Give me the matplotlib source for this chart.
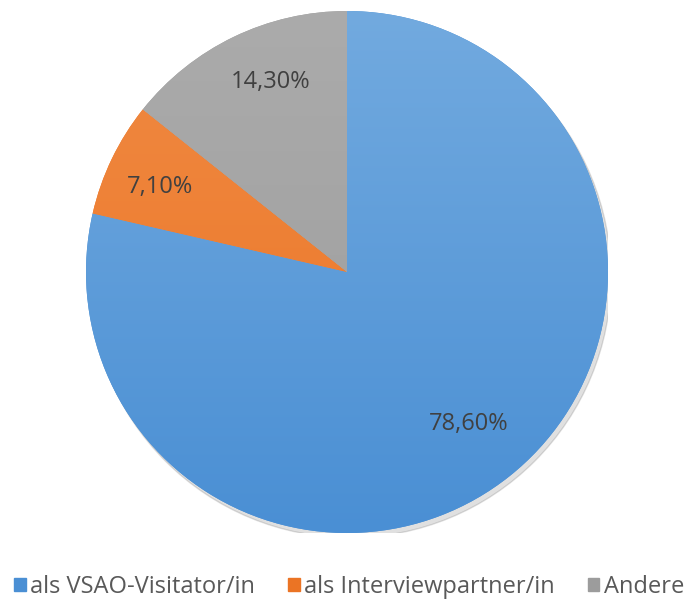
import matplotlib.pyplot as plt
import matplotlib.colors as mcolors
import numpy as np

# ── Data ──────────────────────────────────────────────────────────────────────
labels = ['als VSAO-Visitator/in', 'als Interviewpartner/in', 'Andere']
values = [78.6, 7.1, 14.3]
value_labels = ['78,60%', '7,10%', '14,30%']

colors_top = ['#72aadf', '#f08a43', '#ababab']
colors_bot = ['#4a8fd4', '#eb7424', '#9c9c9c']
label_dist = [0.747, 0.787, 0.784]
label_shift = [0.2, 1.3, -3.9]   # degrees

# ── Plot ──────────────────────────────────────────────────────────────────────
fig = plt.figure(figsize=(6.91, 6.01), dpi=100)
R = 261
cx, cy = 347, 601 - 272
ax = fig.add_axes([(cx - R) / 691, (cy - R) / 601, 2 * R / 691, 2 * R / 601])
ax.set_aspect('equal')
ax.axis('off')

# soft shadow
shadow = plt.Circle((0.012, -0.018), 1.0, color='#000000', alpha=0.12, zorder=0)
ax.add_patch(shadow)

wedges, _ = ax.pie(values, startangle=90, counterclock=False, radius=1.0,
                   colors=colors_bot, wedgeprops=dict(linewidth=0))

# vertical gradient inside each wedge
grad = np.linspace(1, 0, 256).reshape(-1, 1)
for w, ct, cb in zip(wedges, colors_top, colors_bot):
    cmap = mcolors.LinearSegmentedColormap.from_list('g', [cb, ct])
    im = ax.imshow(grad, extent=(-1, 1, -1, 1), cmap=cmap, origin='upper',
                   aspect='auto', zorder=2)
    im.set_clip_path(w)

for w, txt, d, s in zip(wedges, value_labels, label_dist, label_shift):
    ang = np.deg2rad((w.theta1 + w.theta2) / 2 + s)
    ax.text(d * np.cos(ang), d * np.sin(ang), txt, ha='center', va='center',
            fontsize=17, color='#404040', family='Open Sans', zorder=3)

ax.set_xlim(-1, 1)
ax.set_ylim(-1, 1)

handles = [plt.Rectangle((0, 0), 1, 1, color=c) for c in colors_bot]
leg = fig.legend(handles, labels, loc='center', bbox_to_anchor=(349 / 691, 1 - 587 / 601),
                 ncol=3, frameon=False, handlelength=0.5, handleheight=0.5,
                 handletextpad=0.18, columnspacing=1.4, borderpad=0,
                 prop={'family': 'Open Sans', 'size': 17})
for t in leg.get_texts():
    t.set_color('#595959')

plt.savefig('out.png', dpi=100)
